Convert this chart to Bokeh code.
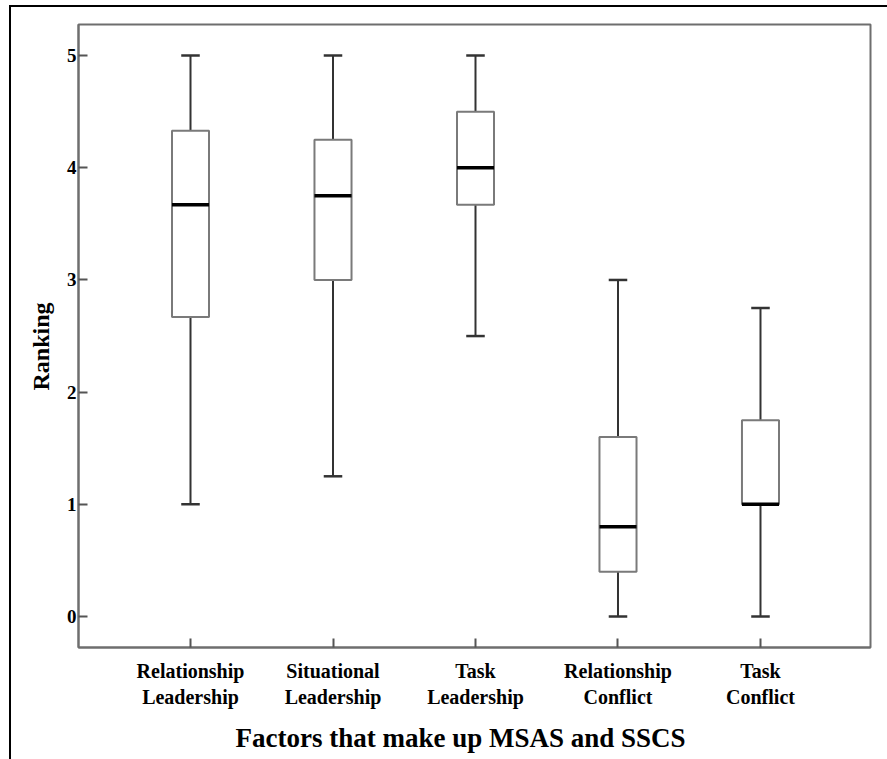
from bokeh.plotting import figure
from bokeh.models import Range1d, FixedTicker, Title
from bokeh.embed import file_html
from bokeh.resources import INLINE

categories = ["Relationship\nLeadership", "Situational\nLeadership", "Task\nLeadership",
              "Relationship\nConflict", "Task\nConflict"]
lower = [1.0, 1.25, 2.5, 0.0, 0.0]
q1 = [2.67, 3.0, 3.67, 0.4, 1.0]
median = [3.67, 3.75, 4.0, 0.8, 1.0]
q3 = [4.33, 4.25, 4.5, 1.6, 1.75]
upper = [5.0, 5.0, 5.0, 3.0, 2.75]
y_ticks = [0, 1, 2, 3, 4, 5]
x_title = "Factors that make up MSAS and SSCS"
y_title = "Ranking"

xs = list(range(len(categories)))
box_w = 0.26
cap_w = 0.13

FONT = "Liberation Serif"

p = figure(frame_width=792, frame_height=623, output_backend="svg", toolbar_location=None,
           x_range=Range1d(-0.786, 4.772), y_range=Range1d(-0.276, 5.277),
           min_border_left=67, min_border_top=17, min_border_right=17, min_border_bottom=110,
           background_fill_color="white", border_fill_color="white",
           styles={"border-top": "2px solid black", "border-left": "2px solid black",
                   "margin-top": "5px", "margin-left": "9px"})

p.xgrid.visible = False
p.ygrid.visible = False
p.outline_line_color = "#6e6e6e"
p.outline_line_width = 2

# whiskers
p.segment(x0=xs, y0=q3, x1=xs, y1=upper, line_color="#333333", line_width=2)
p.segment(x0=xs, y0=lower, x1=xs, y1=q1, line_color="#333333", line_width=2)
# caps
p.segment(x0=[x - cap_w / 2 for x in xs], y0=upper, x1=[x + cap_w / 2 for x in xs], y1=upper,
          line_color="#333333", line_width=2.5)
p.segment(x0=[x - cap_w / 2 for x in xs], y0=lower, x1=[x + cap_w / 2 for x in xs], y1=lower,
          line_color="#333333", line_width=2.5)
# boxes
p.vbar(x=xs, top=q3, bottom=q1, width=box_w, fill_color="white", line_color="#7a7a7a", line_width=2)
# medians
p.segment(x0=[x - box_w / 2 for x in xs], y0=median, x1=[x + box_w / 2 for x in xs], y1=median,
          line_color="black", line_width=3.5)

# axes
for ax in (p.xaxis[0], p.yaxis[0]):
    ax.axis_line_color = "#6e6e6e"
    ax.axis_line_width = 2
    ax.major_tick_line_color = "#555555"
    ax.major_tick_line_width = 2
    ax.major_tick_in = 9
    ax.major_tick_out = 0
    ax.minor_tick_line_color = None
    ax.major_label_text_font = FONT
    ax.major_label_text_font_style = "bold"
    ax.major_label_text_color = "black"

p.xaxis.ticker = FixedTicker(ticks=xs)
p.xaxis.major_label_overrides = {i: c for i, c in enumerate(categories)}
p.xaxis.major_label_text_font_size = "20px"
p.xaxis.major_label_standoff = 12

xt = Title(text=x_title, align="left", offset=157, text_font=FONT, text_font_style="bold",
           text_font_size="27px", text_color="black", standoff=21)
p.add_layout(xt, "below")

p.yaxis.ticker = FixedTicker(ticks=y_ticks)
p.yaxis.major_label_text_font_size = "19px"
p.yaxis.major_label_standoff = 2

yt = Title(text=y_title, align="left", offset=257, text_font=FONT, text_font_style="bold",
           text_font_size="24px", text_color="black", standoff=19)
p.add_layout(yt, "left")

open("out.html", "w").write(file_html(p, INLINE))
